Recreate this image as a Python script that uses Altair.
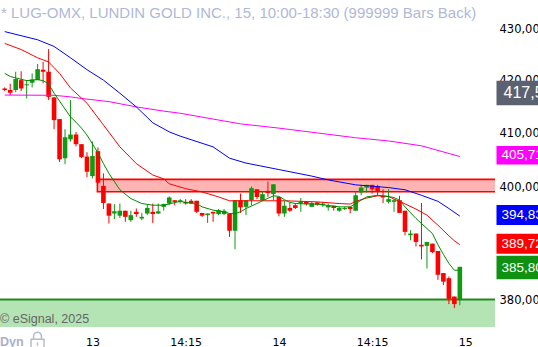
import altair as alt
import pandas as pd

# ---------------- data ----------------
bar_index = list(range(84))
open_ = [418.5, 418.2, 418.2, 420.1, 419.1, 419.6, 420.1, 422.1, 421.7, 416.8,
         412.7, 405.4, 408.9, 409.8, 408.0, 405.7, 402.1, 406.7, 400.3, 397.1,
         395.3, 394.9, 395.8, 394.1, 395.6, 394.4, 395.3, 395.6, 395.3, 396.5,
         397.1, 397.7, 397.4, 397.4, 397.6, 397.6, 395.4, 395.0, 395.6, 395.2,
         395.2, 395.3, 392.2, 397.7, 396.5, 397.7, 399.7, 397.7, 399.4, 398.8,
         398.3, 395.3, 396.3, 396.8, 397.1, 397.4, 396.5, 397.3, 396.8, 396.4,
         396.7, 395.8, 396.1, 396.5, 395.8, 399.1, 400.0, 400.5, 400.3, 398.5,
         397.4, 397.4, 397.7, 395.8, 391.4, 391.7, 389.7, 389.5, 389.9, 388.6,
         384.7, 383.8, 380.6, 380.1]
high = [418.7, 419.4, 421.7, 421.8, 420.1, 421.4, 423.2, 423.6, 426.1, 416.9,
        412.7, 410.8, 416.3, 410.3, 408.0, 406.5, 408.5, 407.4, 402.6, 397.1,
        397.0, 397.1, 395.8, 395.8, 396.2, 395.4, 396.9, 397.1, 397.1, 397.1,
        398.4, 397.7, 397.9, 397.9, 397.9, 397.6, 395.4, 395.3, 395.6, 396.1,
        396.1, 395.3, 397.7, 398.9, 397.7, 400.2, 399.7, 399.3, 401.1, 400.6,
        398.3, 397.6, 397.2, 397.1, 398.1, 397.4, 397.4, 397.4, 397.4, 397.1,
        396.7, 396.5, 396.5, 396.5, 399.3, 400.5, 400.5, 400.5, 400.5, 399.7,
        399.7, 397.9, 398.5, 395.8, 392.3, 391.7, 397.2, 390.2, 389.9, 388.6,
        384.7, 384.1, 380.6, 385.8]
low = [418.0, 417.2, 417.8, 418.0, 416.6, 418.7, 420.1, 419.5, 416.3, 410.8,
       404.7, 404.3, 408.5, 407.6, 405.4, 401.9, 401.7, 400.7, 396.1, 393.5,
       394.3, 394.5, 393.8, 393.8, 394.7, 394.1, 395.0, 393.6, 395.2, 395.8,
       396.8, 396.8, 397.1, 396.9, 397.0, 395.4, 394.7, 393.6, 393.8, 395.0,
       395.0, 391.1, 388.9, 395.4, 395.0, 396.8, 397.9, 397.6, 398.3, 397.7,
       394.8, 394.7, 395.6, 396.1, 395.6, 396.7, 396.5, 396.7, 396.5, 395.8,
       395.8, 395.6, 395.9, 395.3, 395.8, 398.6, 399.1, 398.9, 398.6, 397.2,
       397.1, 395.6, 395.4, 391.4, 390.5, 389.4, 387.1, 385.5, 388.2, 383.5,
       382.6, 379.3, 378.6, 379.1]
close = [418.2, 417.7, 420.3, 418.5, 419.3, 420.2, 422.2, 421.7, 416.9, 412.5,
         405.2, 409.3, 409.8, 408.0, 405.6, 402.9, 405.8, 400.9, 397.2, 394.9,
         395.7, 395.8, 394.7, 395.0, 395.2, 394.7, 396.3, 395.2, 395.7, 397.0,
         398.2, 397.4, 397.7, 397.1, 397.1, 395.6, 394.9, 395.3, 395.3, 395.9,
         395.8, 392.2, 397.7, 396.4, 397.7, 399.9, 398.3, 398.8, 399.0, 400.6,
         395.3, 396.7, 395.8, 396.3, 397.4, 397.0, 397.2, 396.9, 397.1, 396.7,
         396.3, 396.3, 396.3, 396.1, 398.6, 400.0, 400.5, 399.7, 399.3, 398.2,
         397.9, 397.7, 395.4, 392.0, 391.7, 390.2, 389.4, 390.2, 388.4, 384.4,
         383.2, 380.2, 379.3, 385.8]

green_ma_idx = [0, 1, 4, 6, 7, 8, 9, 10, 12, 13, 14, 15, 17, 18, 19, 21, 23, 25, 27, 29,
                32, 33, 35, 36, 38, 40, 41, 42, 43, 44, 46, 47, 49, 50, 51, 52, 53, 56, 57, 61,
                63, 65, 66, 68, 69, 71, 72, 73, 75, 77, 78, 79, 80, 81, 82, 83]
green_ma_val = [421.4, 420.8, 420.0, 420.2, 420.0, 419.4, 417.6, 416.1, 413.1, 412.1,
                411.0, 409.7, 406.4, 404.4, 402.6, 399.6, 398.0, 397.1, 396.8, 396.8,
                397.5, 397.3, 397.1, 396.5, 395.9, 395.6, 395.3, 395.3, 395.6, 396.2,
                397.1, 397.6, 398.5, 398.4, 397.8, 397.3, 397.1, 397.0, 397.0, 396.5,
                396.5, 397.7, 398.3, 398.6, 398.5, 398.2, 397.7, 396.5, 394.4, 392.6,
                391.7, 389.7, 388.0, 386.4, 385.2, 385.2]

red_ma_idx = [0, 3, 6, 8, 9, 10, 12, 15, 18, 21, 24, 27, 29, 30, 33, 36, 39, 41, 51, 57,
              61, 63, 64, 66, 68, 70, 71, 72, 75, 77, 79, 81, 82, 83]
red_ma_val = [427.2, 426.0, 424.4, 423.6, 422.5, 421.4, 418.6, 415.7, 411.6, 407.5,
              404.4, 402.3, 401.6, 400.7, 399.8, 399.2, 398.3, 397.6, 397.6, 397.4,
              397.1, 397.0, 397.5, 398.1, 398.5, 398.4, 397.9, 397.5, 396.1, 395.0,
              393.2, 391.3, 390.4, 389.72]

blue_ma_idx = [0, 6, 9, 12, 15, 18, 21, 24, 26, 27, 30, 32, 38, 41, 44, 50, 56, 59, 64, 70,
               73, 76, 79, 81, 83]
blue_ma_val = [429.5, 427.9, 426.6, 424.4, 422.1, 420.1, 417.6, 415.0, 413.0, 412.0,
               410.3, 409.5, 407.5, 405.4, 404.5, 403.3, 402.1, 401.4, 400.5, 400.0,
               399.6, 398.6, 397.5, 396.2, 394.83]

magenta_ma_idx = [0, 9, 12, 14, 19, 24, 29, 32, 38, 43, 50, 57, 64, 70, 76, 83]
magenta_ma_val = [417.25, 417.2, 416.9, 416.6, 416.0, 415.0, 414.2, 413.8, 412.7, 411.8,
                  411.0, 410.1, 409.2, 408.6, 407.7, 405.71]

x_tick_idx = [16, 33, 50, 67, 84]
x_tick_labels = ["13", "14:15", "14", "14:15", "15"]
y_tick_values = [380, 390, 400, 410, 420, 430]

resist_start = [16.9]
resist_low = [399.25]
resist_high = [401.5]
support_level = [380.1]

badge_labels = ["417,50", "405,71", "394,83", "389,72", "385,80"]
badge_values = [417.5, 405.71, 394.83, 389.72, 385.80]

title_text = "* LUG-OMX, LUNDIN GOLD INC., 15, 10:00-18:30 (999999 Bars Back)"
copyright_text = "\u00a9 eSignal, 2025"
dyn_text = "Dyn"

# ---------------- styling ----------------
UP = "#119911"
DOWN = "#ff0000"
# (fill, top offset, bottom offset, font size, text x)
badge_styles = [("#5c6170", -13, 11.5, 16, 503.5), ("#ff00ff", -10.5, 8, 13.5, 501.5),
                ("#0000ff", -11, 9, 13.5, 501.5), ("#ff0000", -11, 9, 13.5, 501.5),
                ("#119111", -11, 12.5, 13.5, 501.5)]

X0, X1 = 0.05, 88.5
YMIN, YMAX = 375.35, 435.74
xscale = alt.Scale(domain=[X0, X1], nice=False, zero=False)
yscale = alt.Scale(type="log", domain=[YMIN, YMAX], nice=False)

expr = "''"
for v, t in reversed(list(zip(x_tick_idx, x_tick_labels))):
    expr = f"datum.value == {v} ? '{t}' : {expr}"

x_axis = alt.Axis(values=x_tick_idx, labelExpr=expr, domain=False, ticks=False, tickSize=0,
                  grid=False, labelFont="DejaVu Sans", labelFontSize=11, labelColor="#000000",
                  labelPadding=9, labelFlush=False, labelOverlap=False, title=None)
y_axis = alt.Axis(orient="right", values=y_tick_values,
                  labelExpr="replace(format(datum.value, '.2f'), '.', ',')",
                  domain=False, ticks=False, tickSize=0, grid=False, labelFont="DejaVu Sans",
                  labelFontSize=11.5, labelColor="#000000", labelPadding=4,
                  labelOverlap=False, title=None)


def X(f):
    return alt.X(f"{f}:Q", scale=xscale, axis=x_axis)


def Y(f):
    return alt.Y(f"{f}:Q", scale=yscale, axis=y_axis)


layers = []

# support (green) zone
sup_df = pd.DataFrame({"a": [-2.0], "b": [95.0], "top": support_level, "bot": [360.0]})
layers.append(alt.Chart(sup_df).mark_rect(color="#b4e3b4", clip=True).encode(
    x=X("a"), x2="b", y=Y("top"), y2="bot"))
layers.append(alt.Chart(sup_df).mark_rule(color="#1c8c1c", strokeWidth=2, clip=True).encode(
    x=X("a"), x2="b", y=Y("top")))

# resistance (red) zone
res_df = pd.DataFrame({"a": resist_start, "b": [95.0], "lo": resist_low, "hi": resist_high})
layers.append(alt.Chart(res_df).mark_rect(fill="#ffb4b4", stroke="#ff0000", strokeWidth=1.6,
                                          clip=True).encode(
    x=X("a"), x2="b", y=Y("lo"), y2="hi"))

# candles
cdf = pd.DataFrame({"i": bar_index, "o": open_, "h": high, "l": low, "c": close})
base = alt.Chart(cdf).transform_calculate(dir="datum.c >= datum.o ? 'up' : 'down'")
ccol = alt.Color("dir:N", scale=alt.Scale(domain=["up", "down"], range=[UP, DOWN]), legend=None)
layers.append(base.mark_rule(strokeWidth=1, clip=True).encode(
    x=X("i"), y=Y("l"), y2="h", color=ccol))
layers.append(base.mark_bar(size=4.6, clip=True).encode(
    x=X("i"), y=Y("o"), y2="c", color=ccol))

# moving averages
for idx, vals, col in [(magenta_ma_idx, magenta_ma_val, "#ff00ff"),
                       (blue_ma_idx, blue_ma_val, "#0000ff"),
                       (red_ma_idx, red_ma_val, "#ff0000"),
                       (green_ma_idx, green_ma_val, "#008c00")]:
    df = pd.DataFrame({"i": idx, "v": vals})
    layers.append(alt.Chart(df).mark_line(color=col, strokeWidth=1, clip=True).encode(
        x=X("i"), y=Y("v")))

# price badges on the right
for lab, val, (col, top, bot, fs, tx) in zip(badge_labels, badge_values, badge_styles):
    df = pd.DataFrame({"v": [val], "t": [lab]})
    layers.append(alt.Chart(df).mark_rect(color=col, yOffset=top, y2Offset=bot).encode(
        x=alt.value(496.5), x2=alt.value(560), y=Y("v"), y2="v"))
    layers.append(alt.Chart(df).mark_text(align="left", baseline="middle",
                                          font="Liberation Sans", fontSize=fs,
                                          color="#ffffff", dy=(top + bot) / 2).encode(
        x=alt.value(tx), y=Y("v"), text="t:N"))

# texts
layers.append(alt.Chart(pd.DataFrame({"t": [title_text]})).mark_text(
    align="left", baseline="alphabetic", font="Liberation Sans", fontSize=15,
    color="#b0b8d8").encode(x=alt.value(1), y=alt.value(18.3), text="t:N"))
layers.append(alt.Chart(pd.DataFrame({"t": [copyright_text]})).mark_text(
    align="left", baseline="alphabetic", font="Liberation Sans", fontSize=12.5,
    color="#666666").encode(x=alt.value(0), y=alt.value(322.5), text="t:N"))
layers.append(alt.Chart(pd.DataFrame({"t": [dyn_text]})).mark_text(
    align="left", baseline="alphabetic", font="Liberation Sans", fontSize=12.5,
    fontWeight="bold", color="#a9b1cf").encode(x=alt.value(0), y=alt.value(346), text="t:N"))

LOCK = ("M -0.45 -0.1 L -0.45 -0.45 A 0.45 0.45 0 0 1 0.45 -0.45 L 0.45 -0.1 "
        "M -0.75 -0.1 L 0.75 -0.1 L 0.75 1 L -0.75 1 Z M 0 0.3 L 0 0.65")
layers.append(alt.Chart(pd.DataFrame({"a": [0]})).mark_point(
    shape=LOCK, size=300, filled=False, stroke="#b4bcd4", strokeWidth=1.5, opacity=1).encode(
    x=alt.value(37.5), y=alt.value(340)))

chart = alt.layer(*layers).properties(
    width=495, height=327,
    autosize=alt.AutoSizeParams(type="none"),
    padding={"left": 0, "top": 0, "right": 43, "bottom": 20},
    background="#ffffff",
).configure_view(stroke=None)

chart.save("out.html", embed_options={"renderer": "svg", "actions": False})
